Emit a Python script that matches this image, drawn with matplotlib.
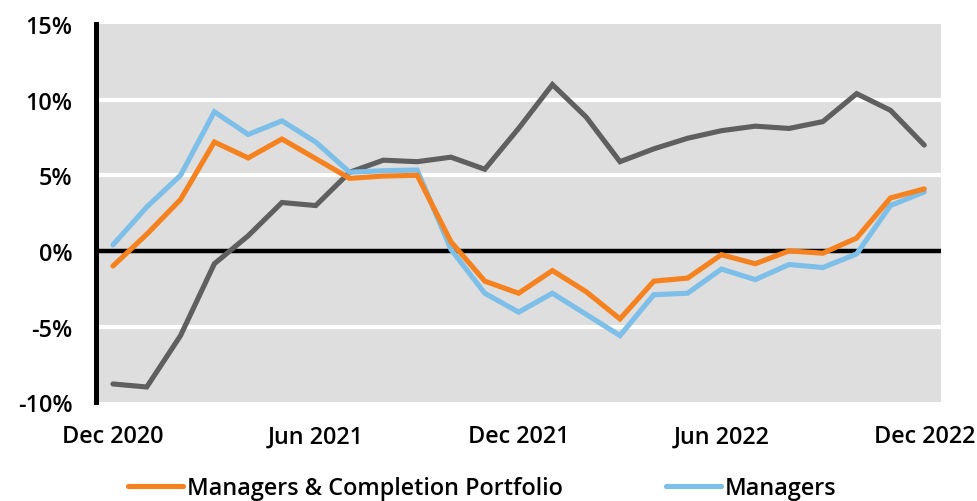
import matplotlib
matplotlib.use("Agg")
import matplotlib.pyplot as plt
from matplotlib.lines import Line2D
import numpy as np

plt.rcParams['font.family'] = ['Open Sans', 'DejaVu Sans']
plt.rcParams['font.weight'] = 'semibold'

months = ['Dec 2020', 'Jan 2021', 'Feb 2021', 'Mar 2021', 'Apr 2021', 'May 2021',
          'Jun 2021', 'Jul 2021', 'Aug 2021', 'Sep 2021', 'Oct 2021', 'Nov 2021',
          'Dec 2021', 'Jan 2022', 'Feb 2022', 'Mar 2022', 'Apr 2022', 'May 2022',
          'Jun 2022', 'Jul 2022', 'Aug 2022', 'Sep 2022', 'Oct 2022', 'Nov 2022',
          'Dec 2022']

mgr_completion = [-1.0, 1.1, 3.4, 7.2, 6.15, 7.4, 6.1, 4.8, 4.95, 5.0, 0.6, -2.0,
                  -2.8, -1.3, -2.7, -4.5, -2.0, -1.8, -0.25, -0.85, 0.0, -0.15,
                  0.85, 3.5, 4.1]
managers = [0.4, 2.9, 5.0, 9.2, 7.7, 8.6, 7.2, 5.2, 5.3, 5.35, 0.1, -2.8,
            -4.05, -2.8, -4.2, -5.6, -2.9, -2.8, -1.2, -1.9, -0.9, -1.1,
            -0.2, 3.0, 3.9]
benchmark = [-8.8, -9.0, -5.6, -0.85, 1.0, 3.2, 3.0, 5.2, 6.0, 5.9, 6.2, 5.4,
             8.1, 11.0, 8.85, 5.9, 6.75, 7.45, 7.95, 8.25, 8.1, 8.55,
             10.4, 9.3, 7.0]

xtick_labels = ['Dec 2020', 'Jun 2021', 'Dec 2021', 'Jun 2022', 'Dec 2022']
yticks = [-10, -5, 0, 5, 10, 15]

c_orange = '#F5821F'
c_blue = '#7DBFE8'
c_gray = '#5F5F5F'
fs = 16.8

fig = plt.figure(figsize=(9.77, 5.02), dpi=100)
ax = fig.add_axes([0.0983, 0.197, 0.865, 0.753])
ax.set_facecolor('#DEDEDE')

x = np.arange(len(months))
for yv in [5, 10, -5]:
    ax.axhline(yv, color='white', lw=3, zorder=1)
ax.axhline(0, color='black', lw=3.2, zorder=2)

ax.plot(x, benchmark, color=c_gray, lw=3.7, zorder=3, solid_capstyle='round', solid_joinstyle='miter')
ax.plot(x, managers, color=c_blue, lw=3.7, zorder=4, solid_capstyle='round', solid_joinstyle='miter')
ax.plot(x, mgr_completion, color=c_orange, lw=3.7, zorder=5, solid_capstyle='round', solid_joinstyle='miter')

ax.set_xlim(-0.5, len(months) - 0.5)
ax.set_ylim(-10, 15)
ax.set_yticks(yticks)
ax.set_yticklabels([f'{v}%' for v in yticks])
ax.set_xticks([months.index(m) for m in xtick_labels])
ax.set_xticklabels(xtick_labels)
ax.tick_params(axis='both', length=0, labelsize=fs)
ax.tick_params(axis='y', pad=17)
ax.tick_params(axis='x', pad=16)

for s in ['top', 'right', 'bottom']:
    ax.spines[s].set_visible(False)
ax.spines['left'].set_linewidth(3.6)
ax.spines['left'].set_color('black')

handles = [Line2D([], [], color=c_orange, lw=3.7, solid_capstyle='round'),
           Line2D([], [], color=c_blue, lw=3.7, solid_capstyle='round')]
fig.legend(handles, ['Managers & Completion Portfolio', 'Managers'],
           loc='center left', bbox_to_anchor=(0.131, 0.026), ncol=2,
           frameon=False, fontsize=fs, handlelength=2.36, handletextpad=0.18,
           columnspacing=4.4, borderpad=0, borderaxespad=0)

fig.savefig('out.png', dpi=100)
